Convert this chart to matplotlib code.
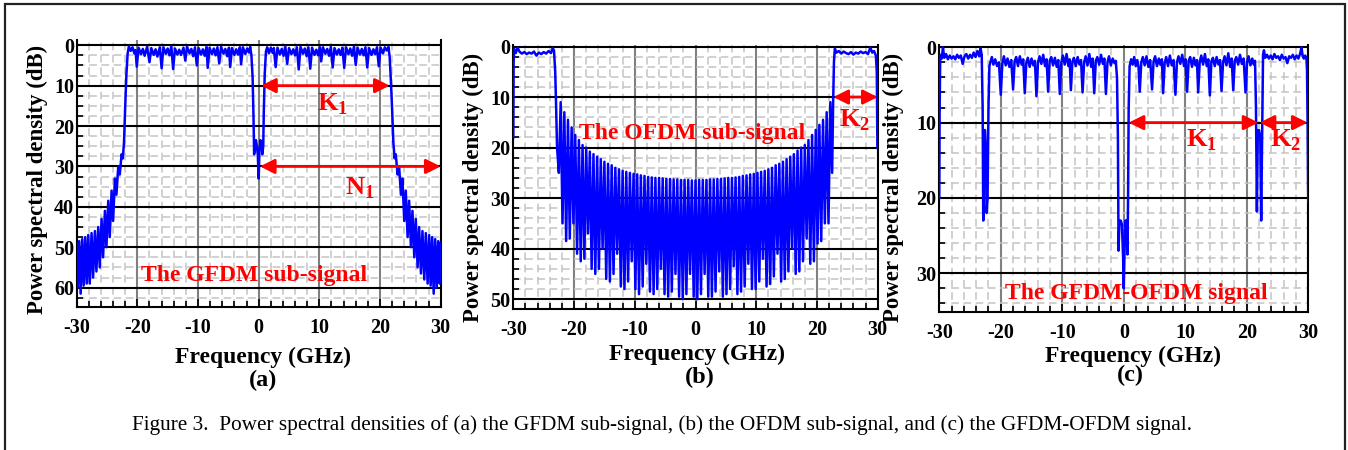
import numpy as np
import matplotlib.pyplot as plt
from matplotlib.patches import Rectangle

# ---- (a) GFDM sub-signal: frequency (GHz) / PSD (dB below peak) ----
gfdm_oob_left_f = [-30.0, -29.85, -29.6, -29.35, -29.1, -28.85, -28.6, -28.35, -28.1, -27.85,
                   -27.55, -27.3, -27.0, -26.75, -26.45, -26.2, -25.9, -25.65, -25.35, -25.1,
                   -24.8, -24.55, -24.25, -24.0, -23.7, -23.45, -23.15, -22.9, -22.6, -22.4, -22.2, -22.0, -21.8, -21.6]
gfdm_oob_left_db = [49, 60, 48.5, 61.5, 48, 59.5, 47.5, 59, 47, 59,
                    46.5, 57.5, 46, 56, 45, 55, 43, 52.5, 41, 50,
                    38.5, 47.5, 36, 43.5, 33, 37, 30, 32, 27, 28, 24, 15, 7, 2]
gfdm_band_left_f = [-21.4, -21.1, -20.8, -20.5, -20.3, -20.1,
                    -19.8, -19.4, -19.1, -18.8, -18.4, -18.0,
                    -17.7, -17.3, -17.0, -16.7, -16.3, -16.0,
                    -15.7, -15.3, -15.0, -14.7, -14.4, -14.1,
                    -13.8, -13.4, -13.1, -12.8, -12.4, -12.1,
                    -11.8, -11.4, -11.1, -10.8, -10.5, -10.2,
                    -9.9, -9.5, -9.2, -8.9, -8.6, -8.4,
                    -8.1, -7.7, -7.4, -7.1, -6.8, -6.5,
                    -6.2, -5.8, -5.5, -5.2, -4.9, -4.7,
                    -4.4, -4.0, -3.7, -3.4, -3.1, -2.9,
                    -2.6, -2.2, -1.9, -1.6, -1.4, -1.2]
gfdm_band_left_db = [0.3, 1.4, 0.5, 2.0, 1.2, 5.3,
                     0.6, 2.2, 0.9, 2.6, 0.4, 4.2,
                     0.7, 2.4, 1.0, 2.8, 0.5, 5.7,
                     0.5, 2.1, 0.8, 2.5, 0.3, 5.9,
                     0.8, 2.3, 1.1, 2.4, 0.6, 3.8,
                     0.4, 2.0, 0.9, 2.7, 0.5, 5.0,
                     0.7, 2.3, 1.0, 2.6, 0.4, 5.6,
                     0.6, 2.2, 0.8, 2.5, 0.5, 4.5,
                     0.4, 2.1, 0.9, 2.7, 0.6, 5.4,
                     0.7, 2.4, 1.0, 2.3, 0.5, 4.7,
                     0.5, 2.2, 0.8, 1.8, 0.4, 2.5]
gfdm_dc_f = [-1.0, -0.85, -0.75, -0.6, -0.45, -0.3, -0.15, 0.0, 0.12, 0.3, 0.45, 0.6, 0.75, 0.85, 1.0, 1.2]
gfdm_dc_db = [8, 18, 27, 24.5, 23.5, 25, 27, 33, 26, 23.5, 24, 27, 25, 16, 7, 1.5]
gfdm_band_right_f = [1.4, 1.7, 2.0, 2.3, 2.5, 2.8,
                     3.1, 3.5, 3.8, 4.1, 4.4, 4.7,
                     5.0, 5.4, 5.7, 6.0, 6.3, 6.6,
                     6.9, 7.3, 7.6, 7.9, 8.2, 8.5,
                     8.8, 9.2, 9.5, 9.8, 10.1, 10.3,
                     10.6, 11.0, 11.3, 11.6, 11.9, 12.2,
                     12.5, 12.9, 13.2, 13.5, 13.8, 14.1,
                     14.4, 14.8, 15.1, 15.4, 15.7, 16.0,
                     16.3, 16.7, 17.0, 17.3, 17.6, 17.9,
                     18.2, 18.6, 18.9, 19.2, 19.5, 19.8,
                     20.1, 20.5, 20.8, 21.1, 21.4]
gfdm_band_right_db = [0.5, 2.0, 0.6, 1.9, 0.7, 5.4,
                      0.6, 2.3, 0.9, 2.6, 0.4, 4.6,
                      0.7, 2.2, 1.0, 2.5, 0.5, 6.0,
                      0.4, 2.1, 0.8, 2.7, 0.5, 5.8,
                      0.6, 2.4, 1.1, 2.5, 0.5, 4.0,
                      0.5, 2.1, 0.9, 2.6, 0.4, 5.5,
                      0.7, 2.3, 1.0, 2.4, 0.6, 5.6,
                      0.5, 2.2, 0.8, 2.6, 0.4, 4.9,
                      0.6, 2.3, 0.9, 2.5, 0.5, 5.5,
                      0.7, 2.4, 1.0, 2.2, 0.5, 5.2,
                      0.6, 2.0, 0.5, 1.3, 0.4]
gfdm_oob_right_f = [21.6, 21.8, 22.0, 22.2, 22.4, 22.6, 22.9, 23.15, 23.45, 23.7,
                    24.0, 24.25, 24.55, 24.8, 25.1, 25.35, 25.65, 25.9, 26.2, 26.45,
                    26.75, 27.0, 27.3, 27.55, 27.85, 28.1, 28.35, 28.6, 28.85, 29.1,
                    29.35, 29.6, 29.85, 30.0]
gfdm_oob_right_db = [3, 9, 16, 24, 28, 27, 32, 30, 37, 33,
                     43.5, 36, 47.5, 38.5, 50, 41, 52.5, 43, 55, 45,
                     56.5, 46, 58, 46.5, 59, 47, 59.5, 47.5, 61.5, 48,
                     60, 48.5, 59, 49]

# ---- (b) OFDM sub-signal ----
ofdm_flat_left_f = [-30.0, -29.95, -29.85, -29.6, -29.3, -29.0, -28.6, -28.2, -27.8, -27.4,
                    -27.0, -26.6, -26.2, -25.8, -25.4, -25.0, -24.6, -24.2, -23.8, -23.5,
                    -23.3, -23.1, -22.95, -22.8]
ofdm_flat_left_db = [18, 3, 0.5, 1.3, 0.2, 1.0, 1.4, 1.1, 1.5, 1.2,
                     1.4, 1.0, 1.8, 1.2, 1.5, 1.1, 1.4, 0.9, 1.3, 0.3,
                     0.8, 5, 12, 20]
ofdm_null_f = [-22.5, -21.9, -21.3, -20.7, -20.1, -19.5, -18.9, -18.3, -17.7, -17.1,
               -16.5, -15.9, -15.3, -14.7, -14.1, -13.5, -12.9, -12.3, -11.7, -11.1,
               -10.5, -9.9, -9.3, -8.7, -8.1, -7.5, -6.9, -6.3, -5.7, -5.1,
               -4.5, -3.9, -3.3, -2.7, -2.1, -1.5, -0.9, -0.3,
               0.3, 0.9, 1.5, 2.1, 2.7, 3.3, 3.9, 4.5, 5.1, 5.7,
               6.3, 6.9, 7.5, 8.1, 8.7, 9.3, 9.9, 10.5, 11.1, 11.7,
               12.3, 12.9, 13.5, 14.1, 14.7, 15.3, 15.9, 16.5, 17.1, 17.7,
               18.3, 18.9, 19.5, 20.1, 20.7, 21.3, 21.9, 22.5]
ofdm_null_db = [25, 35, 38.5, 38, 35, 41, 42.5, 42, 37, 44,
                45, 44, 40, 46, 46.5, 45, 41, 47.5, 48, 46.5,
                42.5, 48, 49, 47.5, 43, 48.5, 49, 48, 44, 49,
                49.5, 48.5, 45, 49.5, 50, 49, 45, 49.5,
                50, 49, 45, 49.5, 49.5, 48.5, 44.5, 49.5, 49, 48,
                43.5, 49, 48.5, 47.5, 43, 48, 48, 46.5, 42, 47.5,
                47, 45.5, 41, 46.5, 46, 44.5, 40, 45, 44.5, 42.5,
                38, 43, 42.5, 39, 38.5, 35, 35, 25]
ofdm_peak_f = [-22.2, -21.6, -21.0, -20.4, -19.8, -19.2, -18.6, -18.0, -17.4, -16.8,
               -16.2, -15.6, -15.0, -14.4, -13.8, -13.2, -12.6, -12.0, -11.4, -10.8,
               -10.2, -9.6, -9.0, -8.4, -7.8, -7.2, -6.6, -6.0, -5.4, -4.8,
               -4.2, -3.6, -3.0, -2.4, -1.8, -1.2, -0.6, 0.0, 0.6, 1.2,
               1.8, 2.4, 3.0, 3.6, 4.2, 4.8, 5.4, 6.0, 6.6, 7.2,
               7.8, 8.4, 9.0, 9.6, 10.2, 10.8, 11.4, 12.0, 12.6, 13.2,
               13.8, 14.4, 15.0, 15.6, 16.2, 16.8, 17.4, 18.0, 18.6, 19.2,
               19.8, 20.4, 21.0, 21.6, 22.2]
ofdm_peak_db = [11, 13, 14.5, 16, 17.5, 18.5, 19.5, 20, 20.8, 21.3,
                21.8, 22.3, 22.8, 23.2, 23.5, 24, 24.3, 24.6, 24.8, 25,
                25.2, 25.3, 25.5, 25.6, 25.8, 25.9, 26, 26, 26.1, 26.2,
                26.2, 26.3, 26.3, 26.4, 26.4, 26.4, 26.5, 26.5, 26.4, 26.4,
                26.4, 26.3, 26.3, 26.2, 26.2, 26.1, 26, 26, 25.9, 25.8,
                25.6, 25.5, 25.3, 25.2, 25, 24.8, 24.6, 24.3, 24, 23.5,
                23.2, 22.8, 22.3, 21.8, 21.3, 20.6, 20, 19.5, 18.5, 17.5,
                16.5, 15.5, 14.5, 13, 11]
ofdm_flat_right_f = [22.65, 22.8, 22.95, 23.2, 23.6, 24.0, 24.4, 24.8, 25.2, 25.6,
                     26.0, 26.4, 26.8, 27.2, 27.6, 28.0, 28.4, 28.8, 29.1, 29.4,
                     29.7, 29.85, 29.95]
ofdm_flat_right_db = [12, 3, 0.4, 1.2, 0.9, 1.4, 1.0, 1.3, 1.5, 1.1,
                      1.6, 1.2, 1.4, 1.0, 1.3, 1.1, 1.5, 0.2, 1.2, 0.9,
                      1.8, 5, 20]

# ---- (c) GFDM-OFDM signal ----
mix_flat_left_f = [-30.0, -29.95, -29.85, -29.6, -29.4, -29.2, -28.9, -28.6, -28.3, -28.0,
                   -27.7, -27.4, -27.1, -26.8, -26.5, -26.2, -25.9, -25.6, -25.3, -25.0,
                   -24.7, -24.4, -24.1, -23.8, -23.5, -23.3, -23.1]
mix_flat_left_db = [20, 9, 1.0, 1.5, 0.0, 1.4, 0.9, 1.6, 1.1, 1.5,
                    1.2, 1.6, 1.0, 1.4, 1.1, 2.2, 1.2, 0.9, 1.5, 1.0,
                    1.4, 0.7, 1.3, 0.5, 1.2, 0.1, 1.0]
mix_notch_left_f = [-22.95, -22.85, -22.75, -22.55, -22.45, -22.3, -22.15, -22.0, -21.85]
mix_notch_left_db = [8, 23, 11, 11, 13, 22, 20, 8, 2.5]
mix_band_left_f = [-21.7, -21.45, -21.2, -20.9, -20.6, -20.3, -20.0,
                   -19.75, -19.5, -19.2, -18.9, -18.6, -18.3, -18.0,
                   -17.75, -17.5, -17.2, -16.9, -16.6, -16.35, -16.1,
                   -15.85, -15.6, -15.3, -15.0, -14.7, -14.45, -14.2,
                   -13.95, -13.7, -13.4, -13.1, -12.8, -12.55, -12.3,
                   -12.05, -11.8, -11.5, -11.2, -10.9, -10.65, -10.4,
                   -10.15, -9.9, -9.6, -9.3, -9.0, -8.8, -8.6,
                   -8.35, -8.1, -7.8, -7.5, -7.2, -6.95, -6.7,
                   -6.45, -6.2, -5.9, -5.6, -5.3, -5.05, -4.8,
                   -4.55, -4.3, -4.0, -3.7, -3.4, -3.15, -2.9,
                   -2.65, -2.4, -2.1, -1.8, -1.5, -1.3]
mix_band_left_db = [2.0, 1.3, 2.3, 1.6, 2.5, 2.0, 6.3,
                    2.2, 1.2, 2.4, 1.5, 2.6, 1.7, 5.6,
                    1.9, 1.3, 2.5, 1.2, 2.3, 1.6, 6.1,
                    2.1, 1.4, 2.6, 1.5, 2.4, 1.8, 6.5,
                    2.0, 1.2, 2.2, 1.0, 2.5, 1.6, 5.9,
                    1.8, 1.3, 2.4, 1.4, 2.6, 1.7, 6.2,
                    2.0, 1.1, 2.3, 0.9, 2.5, 1.6, 5.7,
                    1.9, 1.4, 2.5, 1.3, 2.3, 1.7, 6.0,
                    2.0, 1.2, 2.4, 0.9, 2.6, 1.5, 6.1,
                    1.8, 1.3, 2.3, 1.0, 2.2, 1.5, 6.2,
                    2.0, 1.2, 2.4, 1.5, 2.1, 1.8]
mix_dc_f = [-1.1, -0.95, -0.85, -0.7, -0.5, -0.3, -0.1, 0.0, 0.1, 0.25, 0.45, 0.6, 0.7, 0.8, 0.95]
mix_dc_db = [4, 12, 27, 23, 23, 23.5, 28, 32, 28, 23, 23, 27.5, 20, 8, 2.5]
mix_band_right_f = [1.2, 1.45, 1.7, 1.95, 2.2, 2.4, 2.6,
                    2.85, 3.1, 3.4, 3.7, 4.0, 4.3, 4.6,
                    4.85, 5.1, 5.4, 5.7, 5.95, 6.2, 6.4,
                    6.65, 6.9, 7.2, 7.5, 7.8, 8.1, 8.4,
                    8.65, 8.9, 9.2, 9.5, 9.8, 10.05, 10.3,
                    10.55, 10.8, 11.1, 11.4, 11.65, 11.9, 12.1,
                    12.35, 12.6, 12.9, 13.2, 13.5, 13.75, 14.0,
                    14.25, 14.5, 14.8, 15.1, 15.4, 15.65, 15.9,
                    16.15, 16.4, 16.7, 17.0, 17.3, 17.55, 17.8,
                    18.05, 18.3, 18.6, 18.9, 19.2, 19.5, 19.8,
                    20.05, 20.3, 20.6, 20.9, 21.15, 21.35]
mix_band_right_db = [1.6, 2.3, 1.3, 2.5, 1.7, 2.6, 5.9,
                     2.0, 1.3, 2.4, 1.2, 2.6, 1.7, 5.6,
                     1.9, 1.2, 2.5, 1.5, 2.3, 1.6, 6.1,
                     2.1, 1.3, 2.5, 1.1, 2.4, 1.7, 6.3,
                     2.0, 1.2, 2.2, 1.0, 2.5, 1.6, 5.9,
                     1.8, 1.3, 2.6, 1.4, 2.4, 1.7, 6.0,
                     2.0, 1.1, 2.3, 0.9, 2.5, 1.6, 6.4,
                     1.9, 1.4, 2.5, 1.3, 2.3, 1.7, 5.8,
                     2.0, 1.2, 2.4, 0.8, 2.6, 1.5, 5.7,
                     1.8, 1.3, 2.3, 1.0, 2.2, 1.5, 6.0,
                     2.0, 1.2, 2.4, 1.5, 2.3, 1.8]
mix_notch_right_f = [21.5, 21.65, 21.8, 22.0, 22.2, 22.35, 22.5, 22.65]
mix_notch_right_db = [8, 21.8, 11, 11, 12, 23, 12, 1.0]
mix_flat_right_f = [22.8, 23.0, 23.3, 23.6, 23.9, 24.2, 24.5, 24.8, 25.1, 25.4,
                    25.7, 26.0, 26.3, 26.6, 26.9, 27.2, 27.5, 27.8, 28.1, 28.4,
                    28.7, 28.9, 29.1, 29.3, 29.5, 29.7, 29.8, 29.9, 30.0]
mix_flat_right_db = [0.4, 1.4, 1.0, 1.5, 1.1, 1.6, 0.9, 1.4, 1.2, 1.7,
                     1.0, 1.5, 1.3, 2.1, 1.2, 1.4, 1.0, 1.6, 1.1, 1.5,
                     0.8, 0.0, 1.2, 1.5, 1.1, 1.4, 3, 10, 20.5]

FONT = 'Liberation Serif'
RED = '#ff0000'
BLUE = '#0000ff'


def join(*parts):
    return np.concatenate([np.asarray(p, dtype=float) for p in parts])


def style_axes(ax, ylim, ystep, yminor):
    ax.set_xlim(-30, 30)
    ax.set_ylim(*ylim)
    ax.set_xticks(np.arange(-30, 31, 10))
    ax.set_xticks(np.arange(-30, 31, 2), minor=True)
    ax.set_yticks(np.arange(0, ylim[0] + 0.01, ystep))
    ax.set_yticks(np.arange(0, ylim[0] + 0.01, yminor), minor=True)
    ax.grid(which='minor', color='#c4c4c4', ls=(0, (5, 3)), lw=1.1)
    ax.xaxis.grid(True, which='major', color='#808080', lw=1.5)
    ax.yaxis.grid(True, which='major', color='black', lw=1.5)
    ax.set_axisbelow(True)
    ax.spines['top'].set_visible(False)
    for s in ('left', 'right', 'bottom'):
        ax.spines[s].set_linewidth(1.5)
    ax.tick_params(which='both', direction='in', width=1.2, right=False, top=False)
    ax.tick_params(which='major', length=6)
    ax.tick_params(which='minor', length=4)
    ax.tick_params(axis='x', pad=8)
    ax.tick_params(axis='y', pad=2)
    for lab in ax.get_xticklabels() + ax.get_yticklabels():
        lab.set_fontsize(14.5)
        lab.set_fontweight('bold')


def darrow(ax, x0, x1, y):
    ax.annotate('', xy=(x0, y), xytext=(x1, y),
                arrowprops=dict(arrowstyle='<|-|>', color=RED, lw=2,
                                mutation_scale=22, shrinkA=0, shrinkB=0))


def red_text(ax, x, y, s, size=17):
    ax.text(x, y, s, color=RED, fontsize=size, fontweight='bold',
            ha='center', va='center')


def main():
    plt.rcParams['font.family'] = FONT
    plt.rcParams['axes.unicode_minus'] = False
    plt.rcParams['mathtext.fontset'] = 'custom'
    plt.rcParams['mathtext.rm'] = FONT + ':bold'
    plt.rcParams['mathtext.bf'] = FONT + ':bold'

    fig = plt.figure(figsize=(13.48, 4.5), dpi=100)
    fig.patches.append(Rectangle((5 / 1348, -0.01), 1340 / 1348, 1 - 4 / 450 + 0.01,
                                 transform=fig.transFigure, fill=False,
                                 edgecolor='#222222', lw=1.6))

    # (a)
    ax = fig.add_axes([0.0569, 0.3178, 0.2700, 0.5933])
    fa = join(gfdm_oob_left_f, gfdm_band_left_f, gfdm_dc_f, gfdm_band_right_f, gfdm_oob_right_f)
    pa = join(gfdm_oob_left_db, gfdm_band_left_db, gfdm_dc_db, gfdm_band_right_db, gfdm_oob_right_db)
    ax.plot(fa, pa, color=BLUE, lw=1.8, zorder=3)
    style_axes(ax, (64.8, -1.3), 10, 2.5)
    darrow(ax, 0.4, 21.6, 10)
    darrow(ax, 0.2, 30, 30)
    red_text(ax, 12.2, 14.6, r'K$_{1}$', 19)
    red_text(ax, 16.6, 35.5, r'N$_{1}$', 19)
    red_text(ax, -0.8, 57, 'The GFDM sub-signal')

    # (b)
    ax = fig.add_axes([0.3808, 0.3127, 0.2703, 0.5873])
    comb = sorted(zip(ofdm_null_f + ofdm_peak_f, ofdm_null_db + ofdm_peak_db))
    fb = join(ofdm_flat_left_f, [c[0] for c in comb], ofdm_flat_right_f)
    pb = join(ofdm_flat_left_db, [c[1] for c in comb], ofdm_flat_right_db)
    ax.plot(fb, pb, color=BLUE, lw=1.8, zorder=3)
    style_axes(ax, (52.0, -0.3), 10, 2)
    darrow(ax, 22.7, 30, 10)
    red_text(ax, 26.2, 14.5, r'K$_{2}$', 19)
    red_text(ax, -0.6, 17.2, 'The OFDM sub-signal')

    # (c)
    ax = fig.add_axes([0.6968, 0.3073, 0.2737, 0.5927])
    fc = join(mix_flat_left_f, mix_notch_left_f, mix_band_left_f, mix_dc_f,
              mix_band_right_f, mix_notch_right_f, mix_flat_right_f)
    pc = join(mix_flat_left_db, mix_notch_left_db, mix_band_left_db, mix_dc_db,
              mix_band_right_db, mix_notch_right_db, mix_flat_right_db)
    ax.plot(fc, pc, color=BLUE, lw=1.8, zorder=3)
    style_axes(ax, (35.1, -0.3), 10, 2)
    darrow(ax, 0.8, 21.9, 10)
    darrow(ax, 22.1, 29.9, 10)
    red_text(ax, 12.7, 12.4, r'K$_{1}$', 19)
    red_text(ax, 26.3, 12.4, r'K$_{2}$', 19)
    red_text(ax, 2.1, 32.7, 'The GFDM-OFDM signal')

    # axis titles and panel tags placed in figure pixels
    W, H = 1348.0, 450.0
    for x, y in [(37.5, 179), (473, 187), (893, 187)]:
        fig.text(x / W, 1 - y / H, 'Power spectral density (dB)', rotation=90,
                 fontsize=16.5, fontweight='bold', ha='center', va='center')
    for x, y in [(263, 357), (697, 354), (1133, 356)]:
        fig.text(x / W, 1 - y / H, 'Frequency (GHz)', fontsize=17,
                 fontweight='bold', ha='center', va='center')
    for x, y, tag in [(263, 380, '(a)'), (700, 377, '(b)'), (1130, 375, '(c)')]:
        fig.text(x / W, 1 - y / H, tag, fontsize=17.5, fontweight='bold',
                 ha='center', va='center')
    fig.text(662 / W, 1 - 425 / H,
             'Figure 3.  Power spectral densities of (a) the GFDM sub-signal, '
             '(b) the OFDM sub-signal, and (c) the GFDM-OFDM signal.',
             fontsize=15.3, ha='center', va='center')

    fig.savefig('out.png', dpi=100)


if __name__ == '__main__':
    main()
